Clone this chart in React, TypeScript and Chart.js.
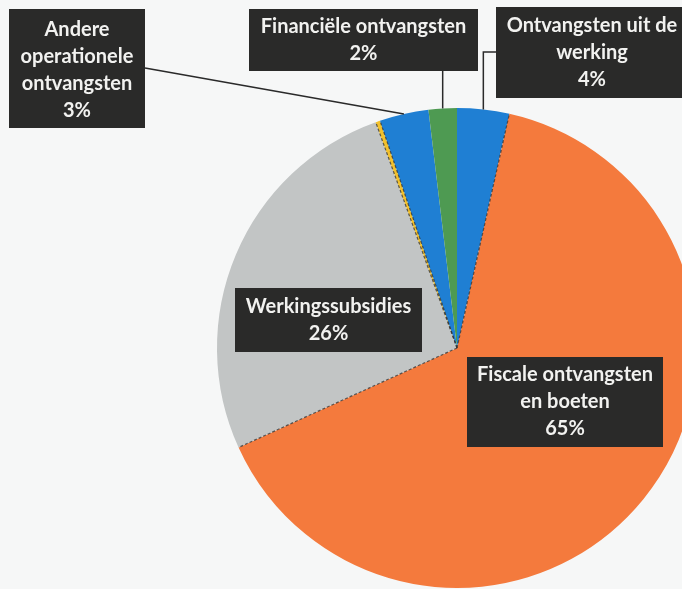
import React, { useEffect, useRef } from "react";
import { Chart, registerables } from "chart.js";

Chart.register(...registerables);

// Data (clockwise from 12 o'clock)
const categories = [
  "Ontvangsten uit de werking",
  "Fiscale ontvangsten en boeten",
  "Werkingssubsidies",
  "Overige",
  "Andere operationele ontvangsten",
  "Financiële ontvangsten",
];
const values = [3.5, 64.7, 26.3, 0.3, 3.3, 1.9];
const percentLabels = ["4%", "65%", "26%", "", "3%", "2%"];
const labelLines: string[][] = [
  ["Ontvangsten uit de", "werking"],
  ["Fiscale ontvangsten", "en boeten"],
  ["Werkingssubsidies"],
  [],
  ["Andere", "operationele", "ontvangsten"],
  ["Financiële ontvangsten"],
];
const colors = ["#1f7fd3", "#f47a3d", "#c2c5c5", "#f2c12e", "#1f7fd3", "#4e9a52"];
// slice edges drawn with a thin dark separator
const darkEdgeAfter = [true, true, true, true, false, false];

// Layout of callout boxes (x, y, w, h) and leader style
type Box = { x: number; y: number; w: number; h: number; dy: number; leader: "none" | "line" | "vertical" | "elbow" } | null;
const boxes: Box[] = [
  { x: 496, y: 7, w: 192, h: 91, dy: 0, leader: "elbow" },
  { x: 467, y: 357, w: 196, h: 90, dy: 0, leader: "none" },
  { x: 235, y: 288, w: 187, h: 64, dy: 0, leader: "none" },
  null,
  { x: 9, y: 9, w: 136, h: 119, dy: 2, leader: "line" },
  { x: 249, y: 9, w: 229, h: 62, dy: 0, leader: "vertical" },
];

const edgePlugin = {
  id: "edges",
  afterDatasetsDraw(chart: any) {
    const ctx = chart.ctx as CanvasRenderingContext2D;
    const meta = chart.getDatasetMeta(0);
    ctx.save();
    ctx.strokeStyle = "rgba(45,45,45,0.75)";
    ctx.lineWidth = 1.2;
    ctx.setLineDash([3, 2]);
    meta.data.forEach((arc: any, i: number) => {
      if (!darkEdgeAfter[i]) return;
      const a = arc.endAngle;
      ctx.beginPath();
      ctx.moveTo(arc.x, arc.y);
      ctx.lineTo(arc.x + Math.cos(a) * arc.outerRadius, arc.y + Math.sin(a) * arc.outerRadius);
      ctx.stroke();
    });
    ctx.restore();
  },
};

const calloutPlugin = {
  id: "callouts",
  afterDatasetsDraw(chart: any) {
    const ctx = chart.ctx as CanvasRenderingContext2D;
    const meta = chart.getDatasetMeta(0);
    ctx.save();
    meta.data.forEach((arc: any, i: number) => {
      const b = boxes[i];
      if (!b) return;
      const mid = (arc.startAngle + arc.endAngle) / 2;
      const px = arc.x + Math.cos(mid) * arc.outerRadius;
      const py = arc.y + Math.sin(mid) * arc.outerRadius;
      ctx.strokeStyle = "#2a2a2a";
      ctx.lineWidth = 1.5;
      if (b.leader === "line") {
        ctx.beginPath();
        ctx.moveTo(b.x + b.w, b.y + 59);
        ctx.lineTo(px, py);
        ctx.stroke();
      } else if (b.leader === "vertical") {
        ctx.beginPath();
        ctx.moveTo(px, b.y + b.h);
        ctx.lineTo(px, py);
        ctx.stroke();
      } else if (b.leader === "elbow") {
        ctx.beginPath();
        ctx.moveTo(b.x, b.y + 45);
        ctx.lineTo(px, b.y + 45);
        ctx.lineTo(px, py);
        ctx.stroke();
      }
      // box
      ctx.fillStyle = "#2a2a29";
      ctx.fillRect(b.x, b.y, b.w, b.h);
      // text
      const lines = [...labelLines[i], percentLabels[i]];
      const lh = 27;
      const cx = b.x + b.w / 2;
      const cy = b.y + b.h / 2 + b.dy;
      const top = cy - ((lines.length - 1) * lh) / 2;
      ctx.fillStyle = "#f2f2f0";
      ctx.font = "bold 20px Lato";
      ctx.textAlign = "center";
      ctx.textBaseline = "middle";
      lines.forEach((t, k) => ctx.fillText(t, cx, top + k * lh));
    });
    ctx.restore();
  },
};

export default function App() {
  const ref = useRef<HTMLCanvasElement>(null);
  useEffect(() => {
    if (!ref.current) return;
    const chart = new Chart(ref.current, {
      type: "pie",
      data: {
        labels: categories,
        datasets: [
          {
            data: values,
            backgroundColor: colors,
            borderWidth: 0,
          },
        ],
      },
      options: {
        responsive: false,
        animation: false,
        layout: { padding: { left: 217, top: 108, right: 63, bottom: 1 } },
        plugins: { legend: { display: false }, tooltip: { enabled: false } },
      },
      plugins: [edgePlugin, calloutPlugin],
    });
    return () => chart.destroy();
  }, []);
  return (
    <div
      style={{
        position: "fixed",
        left: 0,
        top: 0,
        width: 682,
        height: 589,
        overflow: "hidden",
        background: "#f6f7f7",
      }}
    >
      <canvas ref={ref} width={760} height={589} style={{ display: "block" }} />
    </div>
  );
}
